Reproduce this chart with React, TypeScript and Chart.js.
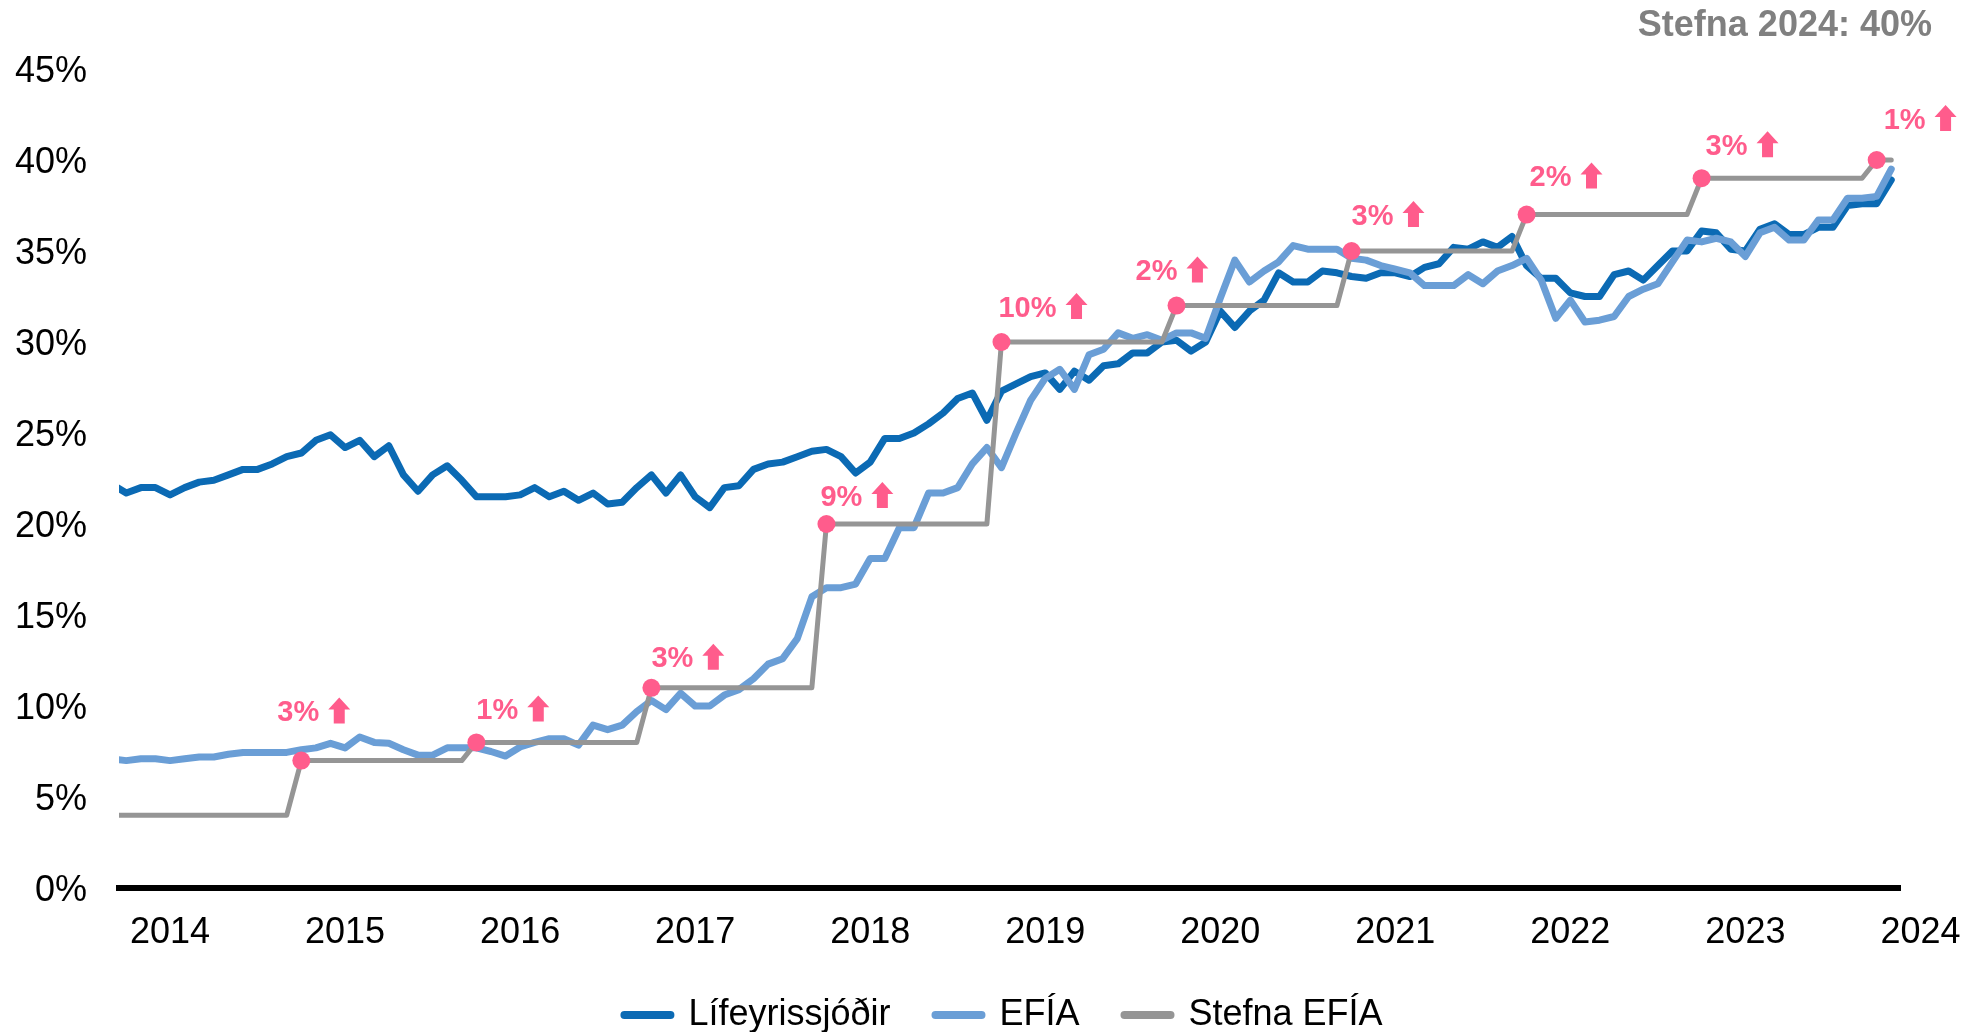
import React, { useEffect, useRef } from 'react';
import { Chart, registerables } from 'chart.js';

Chart.register(...registerables);

// Monthly series, Sep 2013 (index 0) to Nov 2023 (index 122)
const yearLabels = ['2014', '2015', '2016', '2017', '2018', '2019', '2020', '2021', '2022', '2023', '2024'];
// month index of January of each labelled year
const yearTickPositions = [4, 16, 28, 40, 52, 64, 76, 88, 100, 112, 124];

const seriesNames = ['Lífeyrissjóðir', 'EFÍA', 'Stefna EFÍA'];

const lifeyrissjodir = [
  22.2, 21.7, 22.0, 22.0, 21.6, 22.0, 22.3, 22.4, 22.7, 23.0,
  23.0, 23.3, 23.7, 23.9, 24.6, 24.9, 24.2, 24.6, 23.7, 24.3,
  22.7, 21.8, 22.7, 23.2, 22.4, 21.5, 21.5, 21.5, 21.6, 22.0,
  21.5, 21.8, 21.3, 21.7, 21.1, 21.2, 22.0, 22.7, 21.7, 22.7,
  21.5, 20.9, 22.0, 22.1, 23.0, 23.3, 23.4, 23.7, 24.0, 24.1,
  23.7, 22.8, 23.4, 24.7, 24.7, 25.0, 25.5, 26.1, 26.9, 27.2,
  25.7, 27.3, 27.7, 28.1, 28.3, 27.4, 28.4, 27.9, 28.7, 28.8,
  29.4, 29.4, 30.0, 30.1, 29.5, 30.0, 31.7, 30.8, 31.7, 32.3,
  33.8, 33.3, 33.3, 33.9, 33.8, 33.6, 33.5, 33.8, 33.8, 33.6,
  34.1, 34.3, 35.2, 35.1, 35.5, 35.2, 35.8, 34.2, 33.5, 33.5,
  32.7, 32.5, 32.5, 33.7, 33.9, 33.4, 34.2, 35.0, 35.0, 36.1,
  36.0, 35.1, 35.0, 36.2, 36.5, 35.9, 35.9, 36.3, 36.3, 37.5,
  37.6, 37.6, 38.9,
];

const efia = [
  7.1, 7.0, 7.1, 7.1, 7.0, 7.1, 7.2, 7.2, 7.35, 7.45,
  7.45, 7.45, 7.45, 7.6, 7.7, 7.95, 7.7, 8.3, 8.0, 7.95,
  7.6, 7.3, 7.3, 7.7, 7.7, 7.7, 7.5, 7.25, 7.75, 8.0,
  8.2, 8.2, 7.85, 8.95, 8.7, 8.95, 9.7, 10.3, 9.8, 10.7,
  10.0, 10.0, 10.6, 10.9, 11.5, 12.3, 12.6, 13.7, 16.0, 16.5,
  16.5, 16.7, 18.1, 18.1, 19.8, 19.8, 21.7, 21.7, 22.0, 23.3,
  24.2, 23.1, 25.0, 26.8, 28.0, 28.5, 27.4, 29.3, 29.6, 30.5,
  30.2, 30.4, 30.1, 30.5, 30.5, 30.2, 32.4, 34.5, 33.3, 33.9,
  34.4, 35.3, 35.1, 35.1, 35.1, 34.6, 34.5, 34.2, 34.0, 33.8,
  33.1, 33.1, 33.1, 33.7, 33.2, 33.9, 34.2, 34.6, 33.4, 31.3,
  32.3, 31.1, 31.2, 31.4, 32.5, 32.9, 33.2, 34.4, 35.6, 35.5,
  35.7, 35.5, 34.7, 36.0, 36.3, 35.6, 35.6, 36.7, 36.7, 37.9,
  37.9, 38.0, 39.5,
];

const stefnaEfia = [
  4, 4, 4, 4, 4, 4, 4, 4, 4, 4, 4, 4, 4,
  7, 7, 7, 7, 7, 7, 7, 7, 7, 7, 7, 7,
  8, 8, 8, 8, 8, 8, 8, 8, 8, 8, 8, 8,
  11, 11, 11, 11, 11, 11, 11, 11, 11, 11, 11, 11,
  20, 20, 20, 20, 20, 20, 20, 20, 20, 20, 20, 20,
  30, 30, 30, 30, 30, 30, 30, 30, 30, 30, 30, 30,
  32, 32, 32, 32, 32, 32, 32, 32, 32, 32, 32, 32,
  35, 35, 35, 35, 35, 35, 35, 35, 35, 35, 35, 35,
  37, 37, 37, 37, 37, 37, 37, 37, 37, 37, 37, 37,
  39, 39, 39, 39, 39, 39, 39, 39, 39, 39, 39, 39,
  40, 40,
];

// policy changes (index into the monthly series) and the increase labels
const changeIndices = [13, 25, 37, 49, 61, 73, 85, 97, 109, 121];
const changeLabels = ['3%', '1%', '3%', '9%', '10%', '2%', '3%', '2%', '3%', '1%'];
const yTickValues = [0, 5, 10, 15, 20, 25, 30, 35, 40, 45];
const cornerNote = 'Stefna 2024: 40%';

// ---- styling ----
const FONT = "'Liberation Sans', Arial, sans-serif";
const DARK_BLUE = '#0B6AB4';
const LIGHT_BLUE = '#6A9ED6';
const GRAY = '#959595';
const PINK = '#FF5C8C';
// label offsets (px) from each change dot
const annotationOffsets: [number, number][] = [
  [-24, -50], [0, -34], [0, -31], [-6, -29], [-3, -36],
  [-41, -36], [0, -37], [3, -39], [4, -34], [7, -42],
];

function drawUpArrow(ctx: CanvasRenderingContext2D, x: number, yTop: number, w: number, h: number) {
  const headH = h * 0.46;
  const shaftW = w * 0.5;
  const cx = x + w / 2;
  ctx.beginPath();
  ctx.moveTo(cx, yTop);
  ctx.lineTo(x + w, yTop + headH);
  ctx.lineTo(cx + shaftW / 2, yTop + headH);
  ctx.lineTo(cx + shaftW / 2, yTop + h);
  ctx.lineTo(cx - shaftW / 2, yTop + h);
  ctx.lineTo(cx - shaftW / 2, yTop + headH);
  ctx.lineTo(x, yTop + headH);
  ctx.closePath();
  ctx.fill();
}

export default function App() {
  const canvasRef = useRef<HTMLCanvasElement | null>(null);

  useEffect(() => {
    const canvas = canvasRef.current;
    if (!canvas) return;

    const toPoints = (arr: number[]) => arr.map((y, i) => ({ x: i, y }));
    const dotRadii = stefnaEfia.map((_, i) => (changeIndices.includes(i) ? 9 : 0));

    const annotationPlugin = {
      id: 'policyAnnotations',
      afterDatasetsDraw(chart: any) {
        const ctx: CanvasRenderingContext2D = chart.ctx;
        const xs = chart.scales.x;
        const ys = chart.scales.y;
        ctx.save();
        ctx.fillStyle = PINK;
        ctx.font = `bold 29px ${FONT}`;
        ctx.textAlign = 'left';
        ctx.textBaseline = 'alphabetic';
        changeIndices.forEach((idx, j) => {
          const px = xs.getPixelForValue(idx);
          const py = ys.getPixelForValue(stefnaEfia[idx]);
          const [dx, dy] = annotationOffsets[j];
          const tx = px + dx;
          const cy = py + dy;
          ctx.fillText(changeLabels[j], tx, cy + 10.5);
          const w = ctx.measureText(changeLabels[j]).width;
          drawUpArrow(ctx, tx + w + 9, cy - 13, 22, 26);
        });
        ctx.restore();
      },
      afterDraw(chart: any) {
        const ctx: CanvasRenderingContext2D = chart.ctx;
        ctx.save();
        ctx.fillStyle = '#808080';
        ctx.font = `bold 36px ${FONT}`;
        ctx.textAlign = 'right';
        ctx.textBaseline = 'alphabetic';
        ctx.fillText(cornerNote, 1932, 36);
        ctx.restore();
      },
    };

    const chart = new Chart(canvas, {
      type: 'line',
      data: {
        datasets: [
          {
            label: seriesNames[0],
            data: toPoints(lifeyrissjodir),
            borderColor: DARK_BLUE,
            backgroundColor: DARK_BLUE,
            borderWidth: 7,
            pointRadius: 0,
            borderJoinStyle: 'round',
            borderCapStyle: 'round',
            order: 2,
          },
          {
            label: seriesNames[1],
            data: toPoints(efia),
            borderColor: LIGHT_BLUE,
            backgroundColor: LIGHT_BLUE,
            borderWidth: 7,
            pointRadius: 0,
            borderJoinStyle: 'round',
            borderCapStyle: 'round',
            order: 1,
          },
          {
            label: seriesNames[2],
            data: toPoints(stefnaEfia),
            borderColor: GRAY,
            backgroundColor: GRAY,
            borderWidth: 5,
            pointRadius: dotRadii,
            pointHoverRadius: dotRadii,
            pointBackgroundColor: PINK,
            pointBorderColor: GRAY,
            pointBorderWidth: 0,
            borderJoinStyle: 'round',
            borderCapStyle: 'round',
            order: 0,
          },
        ],
      } as any,
      options: {
        responsive: false,
        animation: false,
        devicePixelRatio: 1,
        layout: { padding: { left: 0, right: -26, top: 69, bottom: -11 } },
        elements: { line: { tension: 0 } },
        plugins: {
          tooltip: { enabled: false },
          title: { display: false },
          legend: {
            position: 'bottom',
            labels: {
              usePointStyle: true,
              pointStyle: 'line',
              pointStyleWidth: 46,
              padding: 45,
              color: '#000',
              font: { size: 36, family: FONT },
              sort: (a: any, b: any) => a.datasetIndex - b.datasetIndex,
              generateLabels: (c: any) =>
                (Chart.defaults.plugins.legend.labels.generateLabels as any)(c).map((l: any) => ({
                  ...l,
                  lineWidth: 8,
                  lineCap: 'round',
                })),
            },
          },
        },
        scales: {
          x: {
            type: 'linear',
            min: 0.5,
            max: 122.6,
            bounds: 'data',
            grid: { display: false, drawTicks: false },
            border: { display: true, color: '#000', width: 6 },
            ticks: {
              autoSkip: false,
              maxRotation: 0,
              minRotation: 0,
              padding: 23,
              color: '#000',
              font: { size: 36, family: FONT },
              callback: (_v: any, i: number) => yearLabels[i] ?? '',
            },
            afterBuildTicks: (s: any) => {
              s.ticks = yearTickPositions.map((v) => ({ value: v }));
            },
            afterFit: (s: any) => {
              s.height = 64;
              s.paddingLeft = 0;
              s.paddingRight = 81;
            },
          },
          y: {
            min: 0,
            max: 45,
            grid: { display: false, drawTicks: false },
            border: { display: false },
            ticks: {
              stepSize: 5,
              padding: 32,
              labelOffset: 3,
              color: '#000',
              font: { size: 36, family: FONT },
              callback: (v: any) => `${v}%`,
            },
            afterBuildTicks: (s: any) => {
              s.ticks = yTickValues.map((v) => ({ value: v }));
            },
            afterFit: (s: any) => {
              s.width = 119;
            },
          },
        },
      } as any,
      plugins: [annotationPlugin],
    });

    return () => chart.destroy();
  }, []);

  return (
    <div style={{ position: 'absolute', left: 0, top: 0, width: 1981, height: 1032, background: '#fff' }}>
      <canvas ref={canvasRef} width={1981} height={1032} style={{ display: 'block' }} />
    </div>
  );
}
